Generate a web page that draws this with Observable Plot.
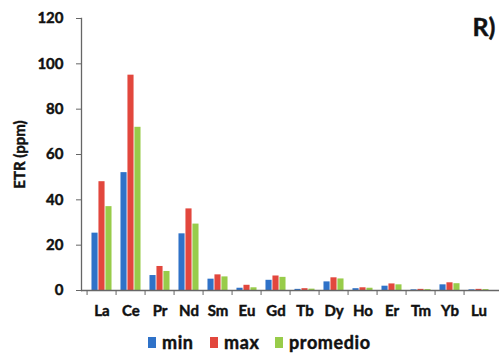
<!DOCTYPE html>
<html>
<head>
<meta charset="utf-8">
<script src="https://cdn.jsdelivr.net/npm/d3@7"></script>
<script src="https://cdn.jsdelivr.net/npm/@observablehq/plot@0.6"></script>
<style>
  html, body { margin: 0; padding: 0; background: #fff; }
  #chart { width: 499px; font-family: Lato, "Open Sans", sans-serif; }
  #chart svg { display: block; }
  #chart svg text { stroke: #111; stroke-width: 0.45px; paint-order: stroke; }
  #chart svg g[aria-label="ytitle"] text { letter-spacing: 1.6px; }
  .legend { position: relative; height: 30px; font: 700 18px Lato, sans-serif; color: #111;
            letter-spacing: 0.6px; -webkit-text-stroke: 0.45px #111; }
  .legend .item { position: absolute; top: 6px; display: flex; align-items: center; gap: 6px; }
  .legend .sw { width: 8px; height: 11px; display: inline-block; }
</style>
</head>
<body>
<div id="chart"></div>
<script>
// Rare earth elements (ETR) and their concentrations in ppm
const elements = ["La", "Ce", "Pr", "Nd", "Sm", "Eu", "Gd", "Tb", "Dy", "Ho", "Er", "Tm", "Yb", "Lu"];
const minValues = [25.3, 52, 6.6, 25, 5, 1, 4.5, 0.5, 3.8, 0.8, 1.9, 0.3, 2.5, 0.3];
const maxValues = [48, 95, 10.6, 36, 6.9, 2.3, 6.4, 0.8, 5.6, 1.2, 2.9, 0.5, 3.4, 0.5];
const avgValues = [37, 72, 8.4, 29.3, 6, 1.2, 5.8, 0.6, 5.1, 1, 2.5, 0.4, 3, 0.4];
const seriesNames = ["min", "max", "promedio"];
const seriesColors = ["#2f72c8", "#e2473d", "#98cc4a"];
const yTicks = [0, 20, 40, 60, 80, 100, 120];

const width = 499, height = 325;
const marginLeft = 81, marginRight = 0, marginTop = 18, marginBottom = 35;
const step = (width - marginLeft - marginRight) / elements.length;
const barW = step * 7 / 30;

const series = [minValues, maxValues, avgValues].map((vals, i) => ({
  name: seriesNames[i],
  color: seriesColors[i],
  rows: elements.map((el, j) => ({el, v: vals[j]}))
}));

const font = {fontFamily: "Lato, sans-serif", fontWeight: 700};

const plot = Plot.plot({
  width, height, marginLeft, marginRight, marginTop, marginBottom,
  style: {fontFamily: "Lato, sans-serif", color: "#111", background: "#fff"},
  x: {domain: elements, padding: 0, label: null},
  y: {domain: [0, 120], label: null},
  marks: [
    ...series.map((s, i) => Plot.barY(s.rows, {
      x: "el", y: "v", fill: s.color,
      insetLeft: (step - barW) / 2, insetRight: (step - barW) / 2,
      dx: (i - 1) * barW
    })),
    Plot.frame({anchor: "left", stroke: "#666", strokeWidth: 1.3}),
    Plot.ruleY([0], {stroke: "#666", strokeWidth: 1.3}),
    Plot.axisY({ticks: yTicks, tickSize: 5, tickPadding: 13, fontSize: 15, ...font, stroke: "#666", label: null}),
    Plot.axisX({tickSize: 5, tickFormat: () => "", dx: -step / 2, stroke: "#666", label: null}),
    Plot.axisX({tickSize: 0, tickPadding: 15, fontSize: 15, ...font, label: null}),
    Plot.text(["ETR (ppm)"], {frameAnchor: "left", textAnchor: "middle", lineAnchor: "middle",
      dx: -61, rotate: -90, fontSize: 15, ...font, fill: "#111", ariaLabel: "ytitle"}),
    Plot.text(["R)"], {frameAnchor: "top-right", textAnchor: "end", lineAnchor: "top",
      dx: -4, dy: 0, fontSize: 25, ...font, fill: "#111"})
  ]
});

const chart = document.getElementById("chart");
chart.appendChild(plot);

// Legend below the plot
const legend = document.createElement("div");
legend.className = "legend";
const legendX = [148, 210, 275];
series.forEach((s, i) => {
  const item = document.createElement("div");
  item.className = "item";
  item.style.left = legendX[i] + "px";
  const sw = document.createElement("span");
  sw.className = "sw";
  sw.style.background = s.color;
  const label = document.createElement("span");
  label.textContent = s.name;
  item.appendChild(sw);
  item.appendChild(label);
  legend.appendChild(item);
});
chart.appendChild(legend);
</script>
</body>
</html>
